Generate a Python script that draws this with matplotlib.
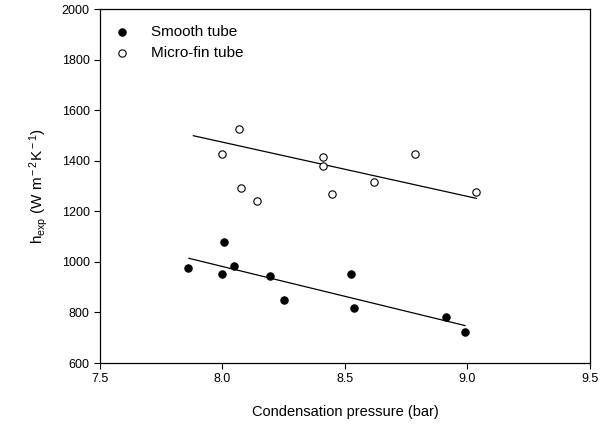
import matplotlib
matplotlib.use('Agg')
import matplotlib.pyplot as plt
import numpy as np

plt.rcParams['font.family'] = ['Liberation Sans', 'DejaVu Sans']
plt.rcParams['mathtext.fontset'] = 'custom'
plt.rcParams['mathtext.rm'] = 'Liberation Sans'
plt.rcParams['mathtext.it'] = 'Liberation Sans'
plt.rcParams['axes.unicode_minus'] = False

# smooth tube data
p_smooth = [7.858, 8.006, 8.0, 8.047, 8.194, 8.251, 8.525, 8.538, 8.914, 8.99]
h_smooth = [977, 1080, 952, 984, 944, 848, 951, 818, 783, 721]
fit_smooth_x = [7.863, 8.99]
fit_smooth_y = [1014, 748]

# micro-fin tube data
p_micro = [8.066, 8.0, 8.077, 8.139, 8.409, 8.412, 8.446, 8.617, 8.786, 9.033]
h_micro = [1527, 1428, 1293, 1242, 1416, 1379, 1267, 1316, 1427, 1278]
fit_micro_x = [7.881, 9.037]
fit_micro_y = [1499, 1251]

xticks = [7.5, 8.0, 8.5, 9.0, 9.5]
yticks = [600, 800, 1000, 1200, 1400, 1600, 1800, 2000]

fig = plt.figure(figsize=(6.12, 4.30), dpi=100)
ax = fig.add_axes([0.1634, 0.1558, 0.8006, 0.8232])

ax.scatter(p_smooth, h_smooth, s=28, color='black', edgecolors='black', linewidths=0.8,
           label='Smooth tube', zorder=3)
ax.scatter(p_micro, h_micro, s=28, facecolors='white', edgecolors='black', linewidths=0.8,
           label='Micro-fin tube', zorder=3)
ax.plot(fit_smooth_x, fit_smooth_y, color='black', lw=0.9)
ax.plot(fit_micro_x, fit_micro_y, color='black', lw=0.9)

ax.set_xlim(7.5, 9.5)
ax.set_ylim(600, 2000)
ax.set_xticks(xticks)
ax.set_yticks(yticks)
ax.set_xticklabels(['%.1f' % t for t in xticks])
ax.tick_params(direction='out', length=4, width=0.8, labelsize=9, top=False, right=False)
for s in ax.spines.values():
    s.set_linewidth(0.9)

ax.set_xlabel('Condensation pressure (bar)', fontsize=10.5, labelpad=14)
ax.set_ylabel(r'h$_{\rm exp}$ (W m$^{\rm -2}$K$^{\rm -1}$)', fontsize=11, labelpad=8)

ax.legend(loc='upper left', bbox_to_anchor=(-0.008, 0.985), frameon=False, fontsize=11,
          handletextpad=0.9, borderaxespad=0.3, labelspacing=0.45, scatterpoints=1,
          borderpad=0.4)

fig.savefig('out.png', dpi=100)
